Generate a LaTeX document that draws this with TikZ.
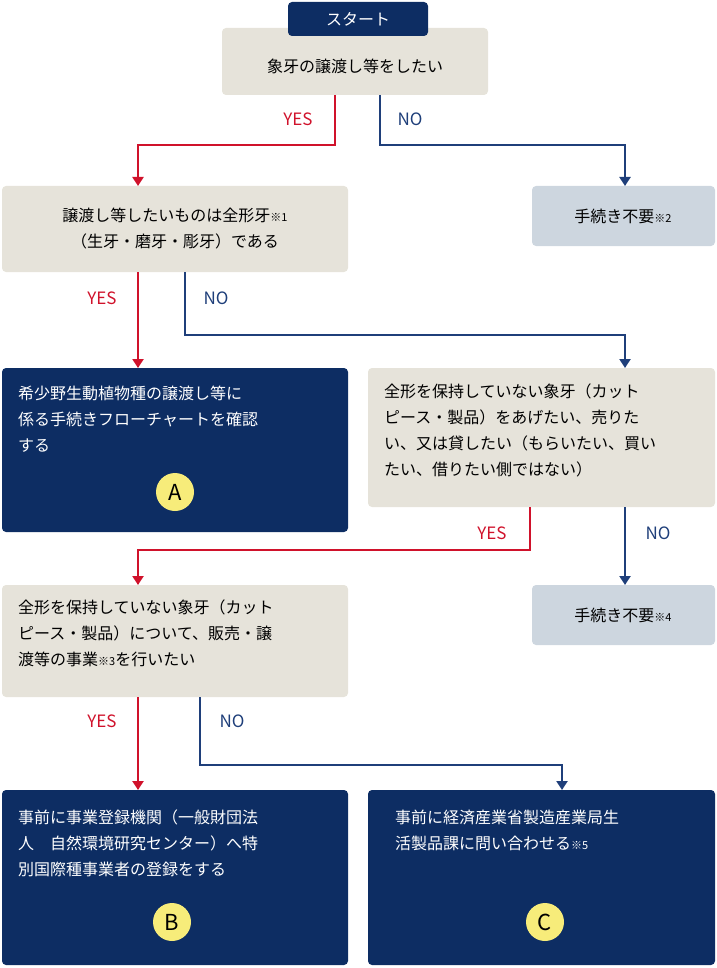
\documentclass[tikz,border=0pt]{standalone}
\usepackage{fontspec}
\setmainfont{Noto Sans CJK JP}
\usetikzlibrary{arrows.meta}
\definecolor{beige}{HTML}{E6E3DA}
\definecolor{navy}{HTML}{0D2D63}
\definecolor{lblue}{HTML}{CDD6DF}
\definecolor{myred}{HTML}{D0122B}
\definecolor{myblue}{HTML}{1F3F7A}
\definecolor{yel}{HTML}{F7EC7A}
\newcommand{\kome}[1]{{\fontsize{11}{11}\selectfont ※#1}}
\tikzset{
 x=1pt,y=-1pt,
 bx/.style={rounded corners=4pt,inner sep=0pt},
 txt/.style={font=\fontsize{16}{26}\selectfont,align=left,inner sep=0pt},
 yesl/.style={draw=myred,line width=2.2pt,-{Triangle[length=9pt,width=11pt]}},
 nol/.style={draw=myblue,line width=2.2pt,-{Triangle[length=9pt,width=11pt]}},
 lab/.style={font=\fontsize{17}{17}\selectfont,inner sep=0pt},
 circ/.style={circle,fill=yel,minimum size=38pt,inner sep=0pt,font=\fontsize{22}{22}\selectfont,text=black}
}
\begin{document}
\begin{tikzpicture}
\useasboundingbox (0,0) rectangle (716,968);
% boxes
\fill[beige,rounded corners=4pt] (222,28) rectangle (488,95);
\fill[navy,rounded corners=4pt] (288,2) rectangle (428,36);
\node[txt,text=white] (start) at (358,19) {スタート};
\node[txt] (b1) at (355,66) {象牙の譲渡し等をしたい};
\coordinate (b1y) at (335,95); \coordinate (b1n) at (380,95);

\fill[beige,rounded corners=4pt] (2,186) rectangle (348,272);
\node[txt,align=center] (b2) at (175,229) {譲渡し等したいものは全形牙\kome{1}\\（生牙・磨牙・彫牙）である};
\coordinate (b2t) at (138,186);
\coordinate (b2y) at (138,272); \coordinate (b2n) at (185,272);

\fill[lblue,rounded corners=4pt] (532,186) rectangle (715,246);
\node[txt] (b3) at (623,216) {手続き不要\kome{2}};
\coordinate (b3t) at (625,186);

\fill[navy,rounded corners=4pt] (2,368) rectangle (348,532);
\node[txt,text=white,anchor=north west] (bA) at (18,386) {希少野生動植物種の譲渡し等に\\係る手続きフローチャートを確認\\する};
\node[circ] (cA) at (175,492) {A};
\coordinate (bAt) at (138,368);

\fill[beige,rounded corners=4pt] (368,368) rectangle (715,507);
\node[txt,anchor=north west] (b4) at (384,384) {全形を保持していない象牙（カット\\ピース・製品）をあげたい、売りた\\い、又は貸したい（もらいたい、買い\\たい、借りたい側ではない）};
\coordinate (b4t) at (625,368);
\coordinate (b4y) at (530,507); \coordinate (b4n) at (625,507);

\fill[lblue,rounded corners=4pt] (532,585) rectangle (715,645);
\node[txt] (b5) at (623,615) {手続き不要\kome{4}};
\coordinate (b5t) at (625,585);

\fill[beige,rounded corners=4pt] (2,585) rectangle (348,697);
\node[txt,anchor=north west] (b6) at (18,600) {全形を保持していない象牙（カット\\ピース・製品）について、販売・譲\\渡等の事業\kome{3}を行いたい};
\coordinate (b6t) at (138,585);
\coordinate (b6y) at (138,697); \coordinate (b6n) at (200,697);

\fill[navy,rounded corners=4pt] (2,790) rectangle (348,965);
\node[txt,text=white,anchor=north west] (bB) at (18,810) {事前に事業登録機関（一般財団法\\人　自然環境研究センター）へ特\\別国際種事業者の登録をする};
\node[circ] (cB) at (172,922) {B};
\coordinate (bBt) at (138,790);

\fill[navy,rounded corners=4pt] (368,790) rectangle (715,965);
\node[txt,text=white,anchor=north west] (bC) at (395,810) {事前に経済産業省製造産業局生\\活製品課に問い合わせる\kome{5}};
\node[circ] (cC) at (545,922) {C};
\coordinate (bCt) at (562,790);

% connectors
\draw[yesl] (b1y) -- (335,145) -- (138,145) -- (b2t);
\draw[nol] (b1n) -- (380,145) -- (625,145) -- (b3t);
\draw[yesl] (b2y) -- (bAt);
\draw[nol] (b2n) -- (185,335) -- (625,335) -- (b4t);
\draw[yesl] (b4y) -- (530,550) -- (138,550) -- (b6t);
\draw[nol] (b4n) -- (b5t);
\draw[yesl] (b6y) -- (bBt);
\draw[nol] (b6n) -- (200,765) -- (562,765) -- (bCt);

\node[lab,text=myred] (l1) at (298,119) {YES};
\node[lab,text=myblue] (l2) at (410,119) {NO};
\node[lab,text=myred] (l3) at (102,298) {YES};
\node[lab,text=myblue] (l4) at (216,298) {NO};
\node[lab,text=myred] (l5) at (492,533) {YES};
\node[lab,text=myblue] (l6) at (658,533) {NO};
\node[lab,text=myred] (l7) at (102,721) {YES};
\node[lab,text=myblue] (l8) at (232,721) {NO};
\end{tikzpicture}
\end{document}
